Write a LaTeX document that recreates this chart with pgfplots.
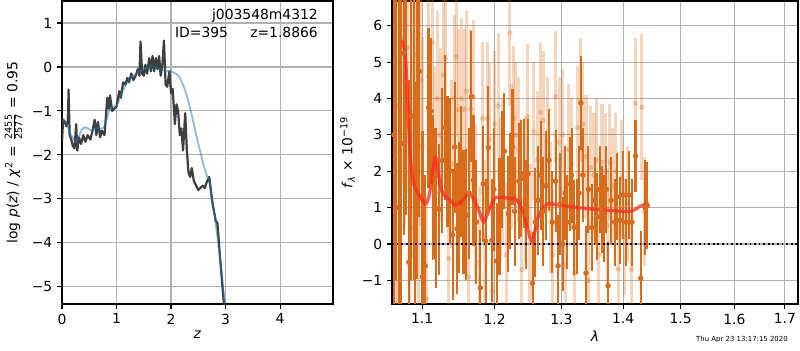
\documentclass[border=0pt]{standalone}
\usepackage{fontspec}
\setmainfont{DejaVu Sans}
\usepackage{amsmath}
\usepackage{pgfplots}
\usepackage{pgfplotstable}
\pgfplotsset{compat=1.18}
\definecolor{gridgray}{HTML}{B0B0B0}
\definecolor{darkor}{RGB}{217,108,26}
\definecolor{pzblack}{HTML}{353535}
\definecolor{tabblue}{RGB}{31,119,180}
\definecolor{fitred}{RGB}{255,40,30}

\pgfplotstableread{
z p
0.00 -1.70
0.02 -1.20
0.05 -1.25
0.08 -1.35
0.11 -1.20
0.12 -0.51
0.14 -1.55
0.17 -1.65
0.20 -1.80
0.23 -1.85
0.26 -1.30
0.28 -1.90
0.31 -1.60
0.35 -1.75
0.39 -1.55
0.43 -1.70
0.47 -1.55
0.52 -1.65
0.56 -1.45
0.60 -1.20
0.63 -1.55
0.66 -1.25
0.70 -1.60
0.73 -1.45
0.78 -1.55
0.83 -0.70
0.86 -0.95
0.88 -0.65
0.92 -1.00
0.96 -0.95
1.00 -0.90
1.05 -0.55
1.08 -0.70
1.12 -0.35
1.16 -0.40
1.20 -0.25
1.23 -0.35
1.27 -0.15
1.31 -0.30
1.35 -0.20
1.39 -0.05
1.42 -0.20
1.44 0.58
1.47 -0.15
1.50 -0.20
1.53 0.05
1.56 -0.15
1.60 0.20
1.63 -0.10
1.66 0.25
1.69 -0.10
1.72 0.20
1.75 -0.05
1.78 0.25
1.81 -0.20
1.84 0.05
1.87 0.60
1.90 -0.40
1.93 -0.45
1.97 -0.10
2.00 -0.60
2.03 -0.50
2.07 -1.30
2.10 -0.85
2.13 -1.00
2.16 -1.55
2.19 -1.40
2.22 -1.90
2.26 -1.05
2.29 -1.90
2.32 -2.40
2.35 -2.50
2.38 -2.30
2.42 -2.60
2.46 -2.70
2.50 -2.80
2.54 -2.75
2.58 -2.70
2.62 -2.75
2.66 -2.60
2.70 -2.50
2.76 -3.10
2.82 -3.50
2.85 -3.55
2.89 -4.20
2.97 -5.40
3.00 -6.00
}\pzdata

\pgfplotstableread{
z p
0.00 -1.20
0.05 -1.22
0.10 -1.35
0.15 -1.50
0.20 -1.62
0.25 -1.70
0.30 -1.62
0.35 -1.45
0.40 -1.38
0.45 -1.38
0.50 -1.42
0.55 -1.45
0.60 -1.40
0.65 -1.38
0.70 -1.40
0.75 -1.40
0.80 -1.28
0.85 -1.05
0.90 -0.92
0.95 -0.90
1.00 -0.88
1.05 -0.75
1.10 -0.58
1.15 -0.45
1.20 -0.35
1.30 -0.20
1.40 -0.12
1.50 -0.05
1.60 0.00
1.65 0.02
1.70 -0.01
1.80 -0.05
1.90 -0.09
2.00 -0.10
2.10 -0.16
2.15 -0.22
2.20 -0.35
2.25 -0.50
2.30 -0.70
2.35 -0.95
2.40 -1.20
2.45 -1.48
2.50 -1.75
2.55 -2.00
2.60 -2.25
2.65 -2.45
2.70 -2.60
2.75 -3.00
2.80 -3.40
2.85 -3.85
2.90 -4.35
2.95 -4.95
3.00 -5.55
}\priordata

\pgfplotstableread{
l f e
1.0635 3.0 8
1.0665 8.0 9
1.0695 1.0 7
1.0725 2.77 6
1.076 5.24 5
1.0795 6.8 6
1.0825 -0.5 5
1.086 3.5 4.5
1.089 3.52 4.5
1.091 0.45 4
1.0935 3.53 4.5
1.0965 4.75 4
1.1005 -0.9 4
1.104 -0.6 2.5
1.1085 3.75 2.2
1.112 3.65 2.0
1.115 1.55 2.0
1.117 1.4 1.8
1.119 0.98 2.2
1.123 0.95 1.8
1.127 2.3 2.0
1.131 3.2 2.0
1.134 2.28 1.8
1.138 2.01 2.0
1.141 0.25 1.8
1.144 2.66 1.8
1.147 0.42 1.8
1.150 1.0 1.8
1.153 2.0 1.8
1.156 0.88 1.7
1.160 0.8 1.8
1.164 1.4 1.8
1.167 4.05 1.8
1.170 1.75 1.8
1.174 0.6 1.7
1.1796 -1.21 1.6
1.1835 1.65 1.6
1.187 0.08 1.7
1.191 2.65 1.7
1.196 0.1 1.7
1.199 1.5 1.7
1.203 -0.47 1.6
1.207 0.75 1.6
1.211 2.05 1.6
1.214 2.55 1.6
1.220 0.83 1.6
1.222 1.45 1.6
1.226 2.67 1.6
1.229 0.9 1.5
1.2355 1.73 1.6
1.239 1.8 1.6
1.243 1.93 1.5
1.246 0.8 1.5
1.249 1.93 1.5
1.256 -1.08 1.4
1.260 0.6 1.5
1.264 1.2 1.5
1.268 1.89 1.5
1.272 0.9 1.5
1.276 1.6 1.5
1.281 2.3 1.4
1.286 0.6 1.4
1.291 1.73 1.4
1.295 -0.6 1.4
1.298 1.1 1.4
1.302 0.0 1.3
1.306 1.4 1.3
1.309 0.6 1.3
1.313 1.65 1.3
1.316 1.89 1.3
1.320 0.45 1.3
1.325 0.48 1.3
1.328 1.4 1.3
1.331 3.87 1.3
1.334 1.9 1.3
1.339 -0.8 1.3
1.343 1.5 1.2
1.348 0.45 1.2
1.353 1.2 1.2
1.357 0.75 1.2
1.361 1.5 1.2
1.365 0.95 1.2
1.368 0.7 1.2
1.372 1.5 1.2
1.375 -1.15 1.2
1.380 1.2 1.2
1.386 0.6 1.2
1.390 1.3 1.2
1.395 0.65 1.2
1.400 1.35 1.2
1.405 0.6 1.2
1.410 1.35 1.2
1.415 0.6 1.2
1.421 2.42 1.0
1.430 -0.94 1.3
1.4375 1.0 1.3
1.441 1.05 1.2
}\darkdata

\pgfplotstableread{
l f e
1.065 2.5 8
1.068 3.8 7
1.0735 5.65 4
1.0775 4.45 4
1.0805 5.4 4
1.084 -0.3 4
1.089 3.6 4
1.092 5.2 4
1.095 0.8 4
1.098 4.5 4
1.101 2.7 3
1.106 -1.5 2.6
1.1085 4.6 2.5
1.114 5.55 2.5
1.117 2.5 2.4
1.120 4.0 2.4
1.124 3.0 2.4
1.129 4.65 2.4
1.131 5.1 2.3
1.136 -0.4 2.3
1.140 2.2 2.3
1.143 4.0 2.3
1.146 5.15 2.2
1.149 3.7 2.2
1.153 4.0 2.2
1.157 3.7 2.2
1.160 4.2 2.2
1.163 -0.9 2.2
1.166 3.7 2.2
1.170 4.05 2.1
1.173 1.2 2.1
1.178 -0.5 2.1
1.183 3.45 2.1
1.186 0.2 2.1
1.190 3.45 2.1
1.193 2.88 2.1
1.197 -1.3 2.0
1.200 3.3 2.0
1.205 3.8 2.0
1.208 1.5 2.0
1.212 2.0 2.0
1.217 -0.3 2.0
1.222 5.8 2.0
1.225 2.4 2.0
1.228 3.45 2.0
1.231 3.0 2.0
1.235 2.6 2.0
1.240 -0.7 2.0
1.245 1.5 2.0
1.248 3.5 2.0
1.252 0.3 1.9
1.258 3.1 1.9
1.263 2.3 1.9
1.268 3.62 1.9
1.272 3.4 1.9
1.278 2.8 1.8
1.283 1.0 1.8
1.287 -0.3 1.8
1.291 4.05 1.8
1.297 2.8 1.8
1.302 3.0 1.8
1.306 -0.6 1.8
1.311 2.6 1.8
1.316 2.2 1.8
1.320 -0.8 1.7
1.325 3.2 1.7
1.330 3.95 1.7
1.334 3.3 1.7
1.339 2.4 1.7
1.343 -1.0 1.7
1.347 2.1 1.7
1.352 1.9 1.7
1.356 2.3 1.7
1.360 -0.3 1.7
1.365 2.25 1.6
1.370 2.0 1.6
1.374 0.5 1.6
1.378 2.25 1.6
1.383 1.6 1.6
1.388 2.0 1.6
1.392 -0.7 1.6
1.397 1.8 1.6
1.402 0.2 1.6
1.408 1.1 1.6
1.414 -0.7 1.6
1.421 3.87 1.8
1.432 3.76 2.0
1.436 0.9 1.5
}\lightdata

\pgfplotstableread{
l f
1.0734 5.60
1.0780 5.20
1.0820 3.50
1.0850 2.30
1.0885 1.70
1.0930 1.45
1.0990 1.25
1.1053 1.10
1.1100 1.40
1.1140 2.00
1.1178 2.40
1.1220 1.90
1.1264 1.45
1.1320 1.30
1.1400 1.15
1.1460 1.05
1.1550 1.20
1.1631 1.38
1.1700 1.25
1.1780 0.90
1.1843 0.60
1.1920 0.95
1.2011 1.27
1.2150 1.27
1.2330 1.20
1.2428 0.80
1.2500 0.30
1.2554 0.05
1.2600 0.40
1.2654 0.80
1.2783 1.10
1.3000 1.06
1.3360 0.98
1.3800 0.92
1.4133 0.90
1.4304 1.05
1.4447 1.10
}\fitdata

\begin{document}
\begin{tikzpicture}
\useasboundingbox (0,0) rectangle (576pt,252pt);
\pgfplotsset{
  every axis/.append style={
    scale only axis,
    anchor=south west,
    axis line style={line width=0.8pt},
    grid=major,
    major grid style={gridgray, line width=0.8pt},
    tick align=outside,
    major tick length=3.5pt,
    every tick/.style={black, line width=0.8pt},
    tick label style={font=\fontsize{10}{12}\selectfont},
    label style={font=\fontsize{10}{12}\selectfont},
    xtick pos=bottom, ytick pos=left,
    clip=true,
  },
}
\begin{axis}[
  at={(44.64pt,33.12pt)},
  width=195.12pt, height=218.16pt,
  xmin=0, xmax=4.97, ymin=-5.39, ymax=1.5,
  xtick={0,1,2,3,4}, xticklabels={0,1,2,3,4},
  ytick={-5,-4,-3,-2,-1,0,1},
  yticklabels={−5,−4,−3,−2,−1,0,1},
  xlabel={\textit{z}},
  ylabel={log \textit{p}(\textit{z}) / \textit{χ}\textsuperscript{2} = $\frac{\text{2455}}{\text{2577}}$ = 0.95},
  xlabel style={yshift=2pt},
  ylabel style={yshift=0pt},
]
\addplot[pzblack, line width=1.6pt, line join=round, opacity=0.95] table[x=z,y=p] {\pzdata};
\addplot[tabblue, line width=1.3pt, line join=round, opacity=0.5] table[x=z,y=p] {\priordata};
\node[anchor=north east, align=right, font=\fontsize{10}{13}\selectfont, inner sep=0pt]
  at (rel axis cs:0.945,0.975) {j003548m4312\\ID=395\hspace{1.6em}z=1.8866};
\end{axis}

\begin{axis}[
  at={(282.24pt,33.12pt)},
  width=292.32pt, height=218.16pt,
  xmode=log,
  xmin=1.061, xmax=1.727, ymin=-1.65, ymax=6.68,
  xtick={1.1,1.2,1.3,1.4,1.5,1.6,1.7},
  xticklabels={1.1,1.2,1.3,1.4,1.5,1.6,1.7},
  minor xtick={},
  ytick={-1,0,1,2,3,4,5,6},
  yticklabels={−1,0,1,2,3,4,5,6},
  xlabel={\textit{λ}},
  ylabel={\textit{f}\textsubscript{\textit{λ}} × 10\textsuperscript{−19}},
  xlabel style={yshift=2pt},
  ylabel style={yshift=-2pt},
]
\addplot[only marks, mark=*, mark size=2pt, color=darkor,
  mark options={draw opacity=0, fill opacity=0.3},
  error bars/.cd, y dir=both, y explicit, error mark=none,
  error bar style={line width=2.2pt, opacity=0.28}]
  table[x=l, y=f, y error=e] {\lightdata};
\addplot[only marks, mark=*, mark size=2pt, color=darkor,
  mark options={draw opacity=0},
  error bars/.cd, y dir=both, y explicit, error mark=none,
  error bar style={line width=1.5pt}]
  table[x=l, y=f, y error=e] {\darkdata};
\addplot[fitred, line width=2.4pt, line join=round, opacity=0.75, smooth, tension=0.4] table[x=l,y=f] {\fitdata};
\addplot[black, dotted, line width=1.3pt] coordinates {(1.061,0) (1.727,0)};
\end{axis}
\node[font=\fontsize{5}{6}\selectfont] at (534.2pt,7.2pt) {Thu Apr 23 13:17:15 2020};
\end{tikzpicture}
\end{document}
